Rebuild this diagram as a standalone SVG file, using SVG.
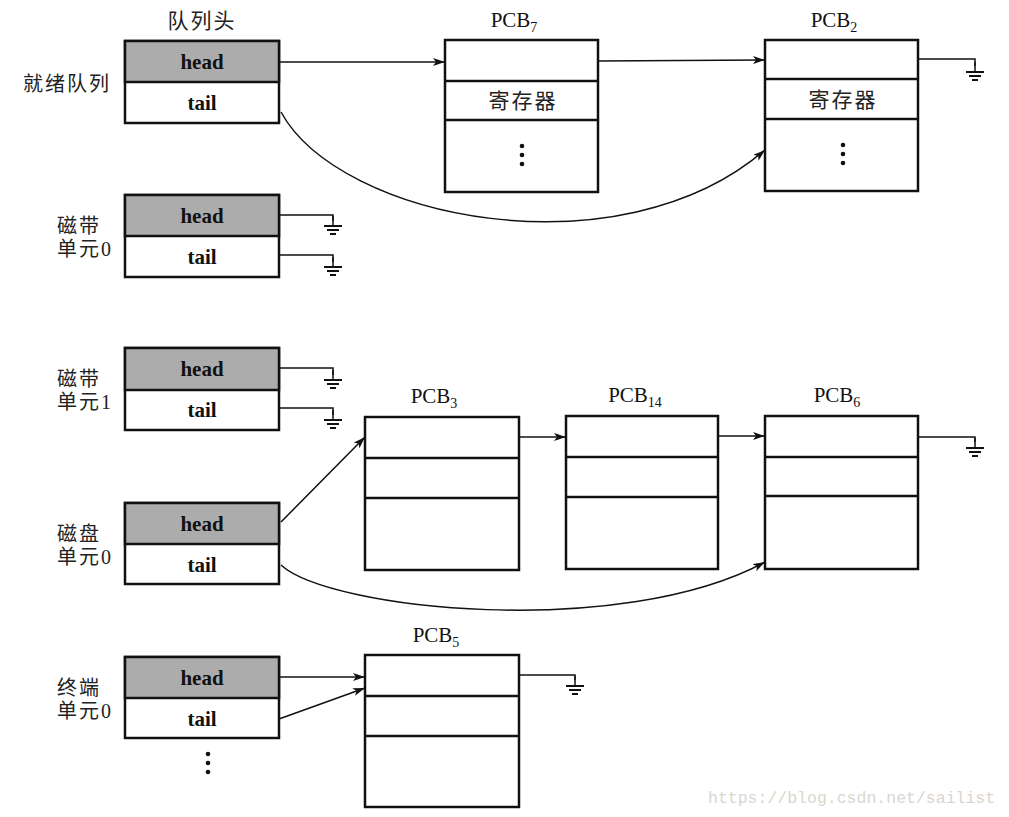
<svg xmlns="http://www.w3.org/2000/svg" width="1009" height="817" viewBox="0 0 1009 817">
<defs>
<marker id="arr" viewBox="0 0 12 8" refX="12" refY="4" markerWidth="12" markerHeight="8" markerUnits="userSpaceOnUse" orient="auto">
<path d="M0,0 L12,4 L0,8 L3,4 Z" fill="#111"/>
</marker>
<g id="gnd">
<line x1="0" y1="0" x2="0" y2="10" stroke="#111" stroke-width="1.5"/>
<line x1="-9" y1="10" x2="9" y2="10" stroke="#111" stroke-width="2"/>
<line x1="-6" y1="14" x2="6" y2="14" stroke="#111" stroke-width="2"/>
<line x1="-3" y1="18" x2="3" y2="18" stroke="#111" stroke-width="2"/>
</g>
</defs>
<style>
.box{fill:#fff;stroke:#111;stroke-width:2.5}
.hd{fill:#acacac;stroke:#111;stroke-width:2.5}
.div{stroke:#111;stroke-width:2.5}
.ht{font-family:"Liberation Serif",serif;font-weight:bold;font-size:21px;fill:#111;text-anchor:middle}
.pcb{font-family:"Liberation Serif",serif;font-size:21px;fill:#111;text-anchor:middle}
.cn{font-family:"Liberation Serif","Noto Sans CJK SC",sans-serif;font-size:20px;fill:#222;letter-spacing:2px}
.cnm{font-family:"Noto Sans CJK SC",sans-serif;font-size:21px;fill:#222;text-anchor:middle;letter-spacing:2px}
.ln{fill:none;stroke:#111;stroke-width:1.5}
.dot{fill:#111}
.wm{font-family:"Liberation Mono",monospace;font-size:16.5px;fill:#d9d6d0}
</style>
<rect width="1009" height="817" fill="#fff"/>

<text class="cnm" x="202" y="28">队列头</text>

<g id="q-ready">
<rect class="box" x="125" y="41" width="154" height="82"/>
<rect class="hd" x="125" y="41" width="154" height="41"/>
<text class="ht" x="202" y="69">head</text>
<text class="ht" x="202" y="110">tail</text>
<text class="cn" x="23" y="91" letter-spacing="3">就绪队列</text>
</g>

<g id="q-tape0">
<rect class="box" x="125" y="195" width="154" height="82"/>
<rect class="hd" x="125" y="195" width="154" height="41"/>
<text class="ht" x="202" y="223">head</text>
<text class="ht" x="202" y="264">tail</text>
<text class="cn" x="57" y="233">磁带</text>
<text class="cn" x="57" y="256">单元0</text>
</g>

<g id="q-tape1">
<rect class="box" x="125" y="348" width="154" height="82"/>
<rect class="hd" x="125" y="348" width="154" height="42"/>
<text class="ht" x="202" y="376">head</text>
<text class="ht" x="202" y="417">tail</text>
<text class="cn" x="57" y="386">磁带</text>
<text class="cn" x="57" y="409">单元1</text>
</g>

<g id="q-disk0">
<rect class="box" x="125" y="503" width="154" height="81"/>
<rect class="hd" x="125" y="503" width="154" height="41"/>
<text class="ht" x="202" y="531">head</text>
<text class="ht" x="202" y="572">tail</text>
<text class="cn" x="57" y="541">磁盘</text>
<text class="cn" x="57" y="564">单元0</text>
</g>

<g id="q-term0">
<rect class="box" x="125" y="657" width="154" height="81"/>
<rect class="hd" x="125" y="657" width="154" height="41"/>
<text class="ht" x="202" y="685">head</text>
<text class="ht" x="202" y="726">tail</text>
<text class="cn" x="57" y="695">终端</text>
<text class="cn" x="57" y="718">单元0</text>
<circle class="dot" cx="208" cy="754" r="2.3"/>
<circle class="dot" cx="208" cy="763" r="2.3"/>
<circle class="dot" cx="208" cy="772" r="2.3"/>
</g>

<g id="pcb7">
<text class="pcb" x="514" y="27">PCB<tspan font-size="14" dy="5">7</tspan></text>
<rect class="box" x="445" y="40" width="153" height="152"/>
<line class="div" x1="445" y1="81" x2="598" y2="81"/>
<line class="div" x1="445" y1="120" x2="598" y2="120"/>
<text class="cnm" x="523" y="108">寄存器</text>
<circle class="dot" cx="522" cy="146" r="2.3"/>
<circle class="dot" cx="522" cy="155" r="2.3"/>
<circle class="dot" cx="522" cy="164" r="2.3"/>
</g>

<g id="pcb2">
<text class="pcb" x="834" y="27">PCB<tspan font-size="14" dy="5">2</tspan></text>
<rect class="box" x="765" y="40" width="153" height="151"/>
<line class="div" x1="765" y1="79" x2="918" y2="79"/>
<line class="div" x1="765" y1="119" x2="918" y2="119"/>
<text class="cnm" x="843" y="107">寄存器</text>
<circle class="dot" cx="843" cy="145" r="2.3"/>
<circle class="dot" cx="843" cy="154" r="2.3"/>
<circle class="dot" cx="843" cy="163" r="2.3"/>
</g>

<g id="pcb3">
<text class="pcb" x="434" y="403">PCB<tspan font-size="14" dy="5">3</tspan></text>
<rect class="box" x="365" y="417" width="154" height="153"/>
<line class="div" x1="365" y1="458" x2="519" y2="458"/>
<line class="div" x1="365" y1="498" x2="519" y2="498"/>
</g>

<g id="pcb14">
<text class="pcb" x="635" y="402">PCB<tspan font-size="14" dy="5">14</tspan></text>
<rect class="box" x="566" y="416" width="152" height="153"/>
<line class="div" x1="566" y1="457" x2="718" y2="457"/>
<line class="div" x1="566" y1="497" x2="718" y2="497"/>
</g>

<g id="pcb6">
<text class="pcb" x="837" y="402">PCB<tspan font-size="14" dy="5">6</tspan></text>
<rect class="box" x="765" y="416" width="153" height="153"/>
<line class="div" x1="765" y1="457" x2="918" y2="457"/>
<line class="div" x1="765" y1="496" x2="918" y2="496"/>
</g>

<g id="pcb5">
<text class="pcb" x="436" y="642">PCB<tspan font-size="14" dy="5">5</tspan></text>
<rect class="box" x="365" y="655" width="154" height="152"/>
<line class="div" x1="365" y1="696" x2="519" y2="696"/>
<line class="div" x1="365" y1="736" x2="519" y2="736"/>
</g>

<g id="connectors">
<line class="ln" x1="279" y1="62" x2="445" y2="62" marker-end="url(#arr)"/>
<line class="ln" x1="598" y1="61" x2="765" y2="60" marker-end="url(#arr)"/>
<path class="ln" d="M281,112 C340,220 620,275 765,150" marker-end="url(#arr)"/>
<polyline class="ln" points="918,59 975,59 975,66"/>
<use href="#gnd" x="975" y="62"/>

<polyline class="ln" points="279,215 333,215 333,221"/>
<use href="#gnd" x="333" y="216"/>
<polyline class="ln" points="279,255 333,255 333,262"/>
<use href="#gnd" x="333" y="257"/>
<polyline class="ln" points="279,368 333,368 333,375"/>
<use href="#gnd" x="333" y="370"/>
<polyline class="ln" points="279,408 333,408 333,415"/>
<use href="#gnd" x="333" y="410"/>

<line class="ln" x1="281" y1="522" x2="365" y2="437" marker-end="url(#arr)"/>
<line class="ln" x1="519" y1="437" x2="566" y2="437" marker-end="url(#arr)"/>
<line class="ln" x1="718" y1="436" x2="765" y2="436" marker-end="url(#arr)"/>
<path class="ln" d="M281,565 C330,610 620,640 765,562" marker-end="url(#arr)"/>
<polyline class="ln" points="918,437 975,437 975,442"/>
<use href="#gnd" x="975" y="438"/>

<line class="ln" x1="279" y1="677" x2="365" y2="677" marker-end="url(#arr)"/>
<line class="ln" x1="279" y1="719" x2="365" y2="688" marker-end="url(#arr)"/>
<polyline class="ln" points="519,675 575,675 575,680"/>
<use href="#gnd" x="575" y="676"/>
</g>

<text class="wm" x="708" y="803">https://blog.csdn.net/sailist</text>
</svg>
